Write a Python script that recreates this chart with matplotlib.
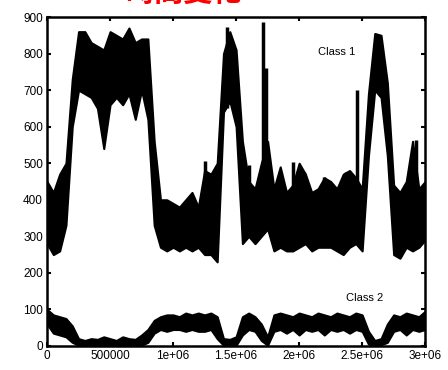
import matplotlib
matplotlib.use('Agg')
from matplotlib import pyplot as plt
import numpy as np

# sample positions (time) and band envelopes
t = [0, 50e3, 100e3, 150e3, 200e3, 250e3, 300e3, 350e3, 400e3, 450e3,
     500e3, 550e3, 600e3, 650e3, 700e3, 750e3, 800e3, 850e3, 900e3, 950e3,
     1.0e6, 1.05e6, 1.1e6, 1.15e6, 1.2e6, 1.25e6, 1.3e6, 1.35e6, 1.4e6, 1.45e6,
     1.5e6, 1.55e6, 1.6e6, 1.65e6, 1.7e6, 1.75e6, 1.8e6, 1.85e6, 1.9e6, 1.95e6,
     2.0e6, 2.05e6, 2.1e6, 2.15e6, 2.2e6, 2.25e6, 2.3e6, 2.35e6, 2.4e6, 2.45e6,
     2.5e6, 2.55e6, 2.6e6, 2.65e6, 2.7e6, 2.75e6, 2.8e6, 2.85e6, 2.9e6, 2.95e6,
     3.0e6]

class1_low = [280, 250, 260, 330, 600, 700, 690, 680, 650, 540,
              660, 680, 660, 690, 620, 700, 620, 330, 270, 260,
              270, 260, 270, 260, 270, 250, 250, 230, 640, 670,
              600, 280, 300, 280, 300, 320, 260, 270, 260, 260,
              270, 280, 260, 270, 270, 270, 260, 250, 270, 280,
              260, 520, 700, 680, 520, 250, 240, 270, 260, 270,
              290]
class1_high = [450, 420, 470, 500, 730, 860, 860, 830, 820, 810,
               860, 850, 840, 870, 830, 840, 840, 560, 400, 400,
               390, 380, 400, 420, 380, 480, 470, 500, 800, 860,
               810, 560, 450, 430, 500, 560, 430, 490, 420, 440,
               500, 470, 420, 430, 460, 450, 430, 470, 480, 460,
               430, 690, 855, 850, 720, 440, 420, 450, 560, 430,
               450]

class2_low = [60, 35, 30, 25, 10, 2, 3, 2, 3, 2,
              2, 3, 2, 3, 2, 2, 10, 35, 45, 40,
              45, 45, 40, 45, 40, 40, 45, 20, 2, 3,
              2, 30, 45, 40, 15, 2, 40, 45, 35, 45,
              30, 45, 40, 45, 30, 45, 40, 45, 35, 45,
              40, 5, 2, 3, 10, 40, 45, 30, 45, 40,
              45]
class2_high = [100, 85, 80, 75, 55, 20, 15, 20, 18, 25,
               20, 15, 25, 20, 18, 30, 45, 70, 80, 85,
               85, 80, 90, 85, 90, 85, 90, 80, 20, 18,
               25, 80, 90, 80, 60, 25, 85, 90, 85, 80,
               90, 85, 80, 90, 85, 80, 90, 85, 80, 90,
               85, 40, 15, 20, 60, 85, 80, 90, 85, 80,
               95]

# narrow spikes on class 1: position, bottom, top
spike_t = [1.257e6, 1.43e6, 1.6e6, 1.71e6, 1.74e6, 1.82e6, 1.95e6, 2.04e6,
           2.2e6, 2.37e6, 2.46e6, 2.93e6]
spike_low = [300, 650, 300, 400, 500, 300, 300, 300, 300, 300, 300, 300]
spike_high = [505, 873, 495, 887, 760, 440, 503, 475, 461, 475, 700, 563]

xticks = [0, 500000, 1000000, 1500000, 2000000, 2500000, 3000000]
xlabels = ['0', '500000', '1e+06', '1.5e+06', '2e+06', '2.5e+06', '3e+06']
yticks = [0, 100, 200, 300, 400, 500, 600, 700, 800, 900]

plt.rcParams['font.family'] = ['Liberation Sans', 'DejaVu Sans']

fig = plt.figure(figsize=(4.48, 3.70), dpi=100)
ax = fig.add_axes([0.105, 0.065, 0.844, 0.889])

ax.fill_between(t, class1_low, class1_high, color='black', lw=1.5)
ax.fill_between(t, class2_low, class2_high, color='black', lw=1.5)
ax.vlines(spike_t, spike_low, spike_high, color='black', lw=2.5)

ax.text(2.3e6, 805, 'Class 1', fontsize=8, ha='center', va='center')
ax.text(2.52e6, 132, 'Class 2', fontsize=8, ha='center', va='center')

ax.set_xlim(0, 3e6)
ax.set_ylim(0, 900)
ax.set_xticks(xticks)
ax.set_xticklabels(xlabels)
ax.set_yticks(yticks)
ax.tick_params(direction='in', length=3, width=1.5, labelsize=8.5,
               top=True, right=True, pad=3)
for s in ax.spines.values():
    s.set_linewidth(1.8)

# title above the plot, cut off by the top edge as in the reference
fig.text(0.41, 0.997, '時間変化', color='red', fontsize=21, fontweight='bold',
         ha='center', va='baseline', family=['Noto Sans CJK JP', 'DejaVu Sans'])

fig.savefig('out.png', dpi=100)
